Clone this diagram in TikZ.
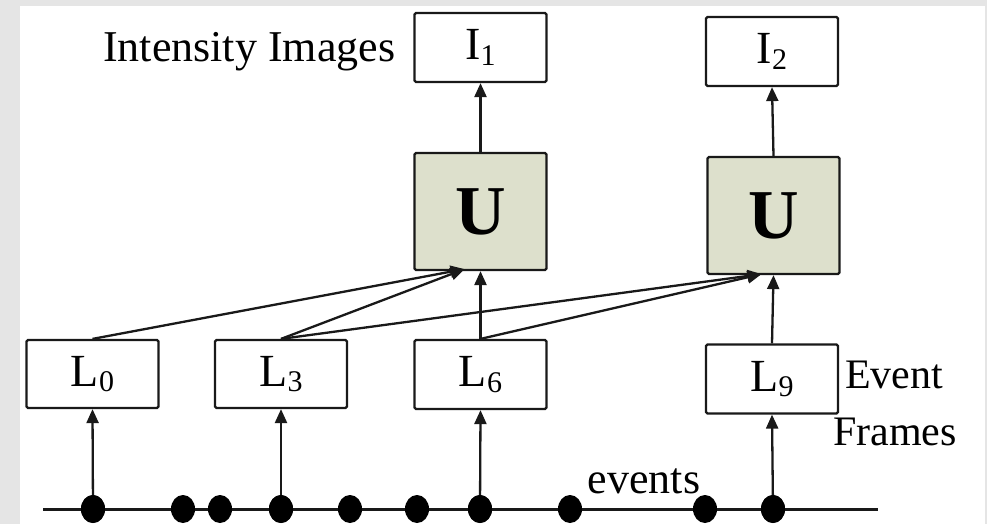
\documentclass[tikz,border=0pt]{standalone}
\usepackage{fontspec}
\setmainfont{Liberation Serif}
\usetikzlibrary{arrows.meta,calc,shapes.geometric}
\definecolor{panelgray}{RGB}{229,229,229}
\definecolor{ucol}{RGB}{221,224,204}
\definecolor{ink}{RGB}{25,25,25}
% letter with a lowered, smaller index
\newcommand\sublab[2]{#1\raisebox{-5.5pt}{\fontsize{30}{30}\selectfont #2}}
\begin{document}
\begin{tikzpicture}[x=1pt,y=-1pt,
  frame/.style={draw=ink, line width=2.2pt, rounded corners=1.5pt, fill=white,
    inner sep=0pt, minimum width=132pt, minimum height=69pt,
    font=\fontsize{46}{46}\selectfont},
  ubox/.style={frame, fill=ucol, minimum height=117pt,
    font=\fontsize{70}{70}\selectfont\bfseries},
  link/.style={line width=2.3pt, draw=ink, -{Triangle[length=14pt,width=12pt]}},
  evdot/.style={ellipse, fill=black, inner sep=0pt, minimum width=24pt, minimum height=28pt},
  caption/.style={font=\fontsize{44}{44}\selectfont, inner sep=0pt, anchor=base}
]
% background and white panel
\useasboundingbox (0,0) rectangle (987,524);
\fill[panelgray] (0,0) rectangle (987,524);
\fill[white] (20,6) rectangle (985,524);

% intensity images
\node[frame] (I1) at (480.5,47.5) {\sublab{I}{1}};
\node[frame] (I2) at (772,51.5) {\sublab{I}{2}};

% update blocks
\node[ubox] (U1) at (480.5,211.5) {U};
\node[ubox] (U2) at (773.5,215.5) {U};

% event frames
\node[frame, minimum height=68pt] (L0) at (92.5,374) {\sublab{L}{0}};
\node[frame, minimum height=68pt] (L3) at (281,374) {\sublab{L}{3}};
\node[frame] (L6) at (480.5,374.5) {\sublab{L}{6}};
\node[frame] (L9) at (772,379) {\sublab{L}{9}};

% event time line
\coordinate (tl) at (43,509);
\coordinate (tr) at (878,509);
\draw[line width=3pt, ink] (tl) -- (tr);
\foreach \n/\x in {a/93,b/183,c/220,d/281,e/350,f/417,g/480,h/570,i/705,j/773}
  \node[evdot] (e\n) at (\x,509) {};

% accumulation of events into frames
\draw[link] (ea.center) -- (L0.south);
\draw[link] (ed.center) -- (L3.south);
\draw[link] (eg.center) -- (L6.south);
\draw[link] (ej.center) -- (L9.south);
\foreach \n in {a,d,g,j} \node[evdot] at (e\n) {};

% frames feeding the update blocks
\coordinate (U1in) at ($(U1.south)+(-16,-2)$);
\coordinate (U2in) at ($(U2.south)+(-12,-1)$);
\draw[link] (L0.north) -- (U1in);
\draw[link] (L3.north) -- (U1in);
\draw[link] (L3.north) -- (U2in);
\draw[link] (L6.north) -- (U2in);
\draw[link] (L6.north) -- (U1.south);
\draw[link] (L9.north) -- (U2.south);

% update blocks producing images
\draw[link] (U1.north) -- (I1.south);
\draw[link] (U2.north) -- (I2.south);

% labels
\node[caption, anchor=base west] (tIntensity) at (103,62) {Intensity Images};
\node[caption, font=\fontsize{42}{42}\selectfont] (tEvent) at (894,388) {Event};
\node[caption, font=\fontsize{42}{42}\selectfont] (tFrames) at (895,445) {Frames};
\node[caption] (tevents) at (644,493) {events};
\end{tikzpicture}
\end{document}
